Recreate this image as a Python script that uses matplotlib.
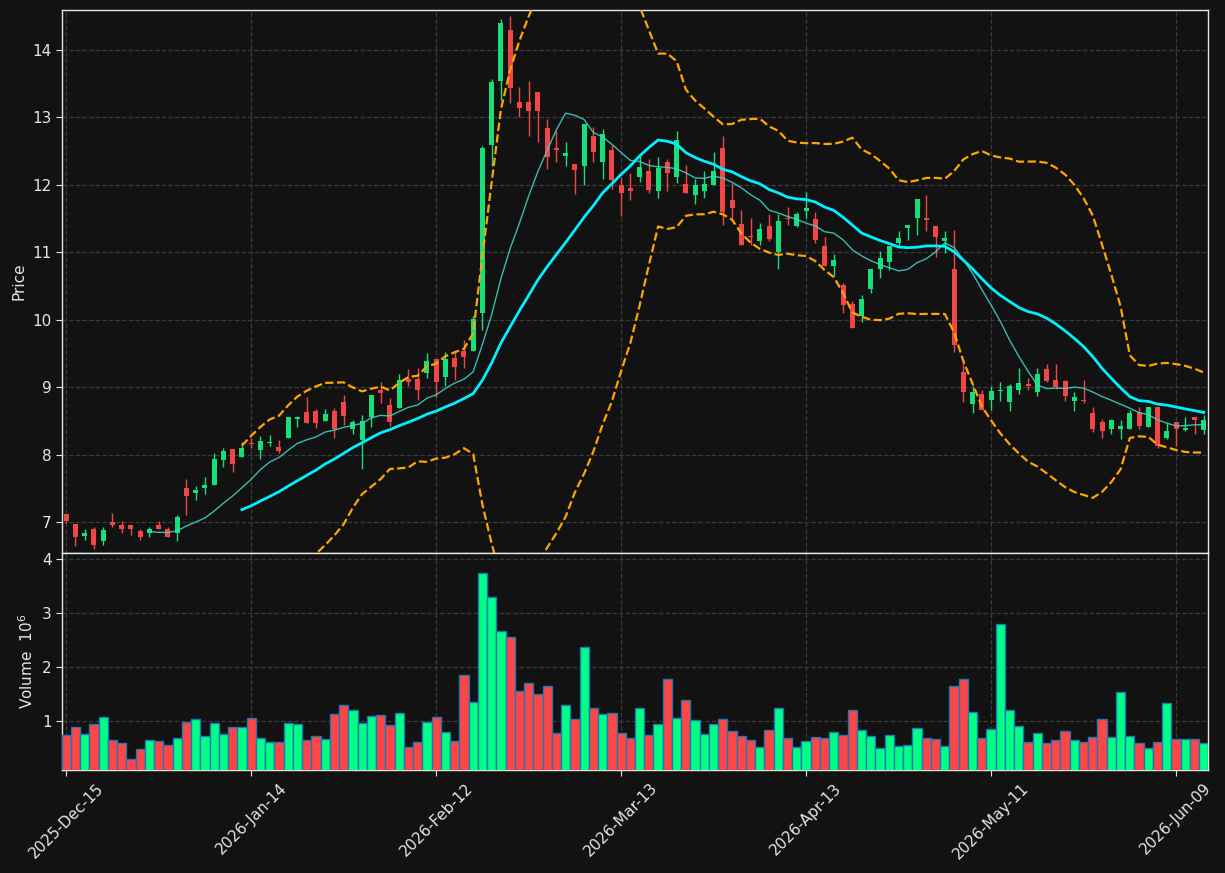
import numpy as np
import pandas as pd
import matplotlib
matplotlib.use("Agg")
import matplotlib.pyplot as plt

# daily OHLC (124 sessions)
opens = [7.12, 6.97, 6.79, 6.90, 6.72, 7.00, 6.95, 6.95, 6.87, 6.83,
         6.95, 6.90, 6.84, 7.50, 7.43, 7.51, 7.55, 7.92, 8.08, 7.97,
         8.17, 8.07, 8.17, 8.11, 8.24, 8.53, 8.63, 8.64, 8.49, 8.64,
         8.78, 8.38, 8.22, 8.55, 8.96, 8.74, 8.69, 9.12, 9.12, 9.21,
         9.42, 9.15, 9.43, 9.54, 9.53, 10.10, 12.59, 13.54, 14.30, 13.23,
         13.23, 13.38, 12.84, 12.55, 12.43, 12.30, 12.27, 12.72, 12.34, 12.52,
         12.00, 11.95, 12.11, 12.21, 11.91, 12.34, 12.12, 12.01, 11.85, 11.90,
         12.00, 12.54, 11.77, 11.42, 11.24, 11.17, 11.39, 11.00, 11.51, 11.39,
         11.61, 11.49, 11.09, 10.79, 10.51, 10.23, 10.05, 10.46, 10.75, 10.85,
         11.14, 11.36, 11.51, 11.50, 11.39, 11.17, 10.75, 9.23, 8.75, 8.90,
         8.81, 8.94, 8.78, 8.95, 9.04, 8.92, 9.27, 9.11, 9.09, 8.79,
         8.81, 8.61, 8.48, 8.38, 8.38, 8.38, 8.63, 8.41, 8.70, 8.25,
         8.48, 8.36, 8.56, 8.36]
highs = [7.12, 6.97, 6.90, 6.92, 6.93, 7.14, 7.01, 6.96, 6.89, 6.92,
         7.01, 6.93, 7.10, 7.64, 7.53, 7.67, 8.02, 8.10, 8.08, 8.19,
         8.25, 8.27, 8.29, 8.21, 8.56, 8.57, 8.86, 8.68, 8.67, 8.69,
         8.88, 8.51, 8.59, 8.88, 9.08, 8.84, 9.19, 9.27, 9.29, 9.50,
         9.42, 9.52, 9.52, 9.70, 10.05, 12.58, 13.56, 14.46, 14.50, 13.45,
         13.54, 13.38, 12.98, 12.80, 12.63, 12.30, 12.90, 12.85, 12.82, 12.59,
         12.12, 12.18, 12.42, 12.38, 12.41, 12.38, 12.79, 12.29, 12.08, 12.21,
         12.48, 12.72, 12.02, 11.63, 11.50, 11.43, 11.57, 11.57, 11.67, 11.59,
         11.89, 11.59, 11.22, 10.97, 10.54, 10.28, 10.37, 10.75, 11.02, 11.09,
         11.31, 11.41, 11.79, 11.85, 11.39, 11.31, 11.33, 9.40, 9.01, 8.96,
         9.01, 9.08, 9.05, 9.28, 9.14, 9.29, 9.34, 9.34, 9.11, 8.93,
         9.10, 8.70, 8.53, 8.52, 8.51, 8.66, 8.71, 8.71, 8.70, 8.46,
         8.48, 8.56, 8.56, 8.59]
lows = [6.98, 6.65, 6.73, 6.60, 6.66, 6.93, 6.84, 6.81, 6.74, 6.77,
        6.89, 6.77, 6.72, 7.10, 7.33, 7.42, 7.55, 7.82, 7.74, 7.97,
        8.10, 7.94, 8.13, 8.02, 8.24, 8.41, 8.46, 8.40, 8.49, 8.25,
        8.44, 8.31, 7.79, 8.41, 8.76, 8.42, 8.69, 9.01, 8.81, 9.13,
        8.86, 9.01, 9.10, 9.28, 9.53, 9.85, 12.27, 13.26, 13.21, 13.00,
        12.72, 12.63, 12.23, 12.34, 12.27, 11.86, 12.00, 12.33, 12.09, 11.93,
        11.53, 11.77, 12.04, 11.87, 11.81, 11.91, 12.02, 11.88, 11.71, 11.80,
        12.00, 11.40, 11.50, 11.10, 11.10, 11.10, 11.17, 10.75, 11.40, 11.37,
        11.50, 11.14, 10.80, 10.65, 10.10, 9.88, 9.97, 10.40, 10.62, 10.73,
        11.08, 11.18, 11.26, 11.31, 10.93, 10.99, 9.52, 8.78, 8.61, 8.66,
        8.66, 8.80, 8.65, 8.89, 8.96, 8.87, 9.07, 8.97, 8.80, 8.64,
        8.76, 8.34, 8.25, 8.30, 8.23, 8.38, 8.38, 8.41, 8.09, 8.23,
        8.12, 8.35, 8.31, 8.31]
closes = [7.01, 6.78, 6.84, 6.66, 6.88, 6.95, 6.90, 6.89, 6.78, 6.89,
          6.89, 6.77, 7.07, 7.38, 7.47, 7.55, 7.93, 8.05, 7.86, 8.10,
          8.15, 8.20, 8.19, 8.05, 8.56, 8.56, 8.46, 8.46, 8.60, 8.38,
          8.57, 8.48, 8.50, 8.88, 8.91, 8.48, 9.11, 9.08, 8.95, 9.39,
          9.07, 9.42, 9.30, 9.44, 10.01, 12.54, 13.53, 14.40, 13.43, 13.14,
          13.09, 13.09, 12.41, 12.51, 12.47, 12.22, 12.90, 12.48, 12.75, 12.07,
          11.88, 11.91, 12.26, 11.92, 12.25, 12.17, 12.67, 11.88, 12.00, 12.01,
          12.21, 11.60, 11.65, 11.10, 11.22, 11.35, 11.20, 11.46, 11.49, 11.57,
          11.66, 11.18, 10.80, 10.89, 10.22, 9.88, 10.30, 10.75, 10.91, 11.09,
          11.21, 11.40, 11.79, 11.48, 11.23, 11.21, 9.62, 8.92, 8.92, 8.66,
          8.94, 8.96, 9.02, 9.06, 9.01, 9.19, 9.09, 9.00, 8.87, 8.85,
          8.79, 8.38, 8.35, 8.51, 8.42, 8.61, 8.42, 8.70, 8.12, 8.35,
          8.38, 8.40, 8.51, 8.51]
# volume in millions
volumes = [0.74, 0.89, 0.76, 0.94, 1.07, 0.65, 0.59, 0.30, 0.48, 0.65,
           0.63, 0.56, 0.69, 0.98, 1.04, 0.72, 0.96, 0.76, 0.89, 0.89,
           1.06, 0.69, 0.61, 0.61, 0.96, 0.94, 0.65, 0.72, 0.67, 1.13,
           1.30, 1.20, 0.96, 1.09, 1.11, 0.93, 1.15, 0.52, 0.61, 0.98,
           1.07, 0.80, 0.63, 1.85, 1.35, 3.74, 3.30, 2.67, 2.56, 1.56,
           1.70, 1.50, 1.65, 0.78, 1.30, 1.04, 2.37, 1.24, 1.13, 1.15,
           0.78, 0.69, 1.24, 0.74, 0.94, 1.78, 1.06, 1.39, 1.02, 0.76,
           0.94, 1.04, 0.81, 0.72, 0.65, 0.52, 0.83, 1.24, 0.69, 0.52,
           0.63, 0.70, 0.69, 0.80, 0.74, 1.20, 0.83, 0.72, 0.50, 0.74,
           0.54, 0.56, 0.87, 0.69, 0.67, 0.54, 1.65, 1.78, 1.17, 0.69,
           0.85, 2.80, 1.20, 0.91, 0.62, 0.78, 0.59, 0.65, 0.81, 0.65,
           0.61, 0.70, 1.04, 0.70, 1.54, 0.72, 0.59, 0.50, 0.62, 1.33,
           0.67, 0.67, 0.67, 0.59]
tick_pos = [0, 20, 40, 60, 80, 100, 120]
tick_labels = ['2025-Dec-15', '2026-Jan-14', '2026-Feb-12', '2026-Mar-13',
               '2026-Apr-13', '2026-May-11', '2026-Jun-09']

df = pd.DataFrame({'open': opens, 'high': highs, 'low': lows,
                   'close': closes, 'volume': volumes})
x = np.arange(len(df))
up = df['close'] >= df['open']

# indicators from the closes
ma10 = df['close'].rolling(10).mean()
ma20 = df['close'].rolling(20).mean()
sd20 = df['close'].rolling(20).std()
bb_up = ma20 + 2 * sd20
bb_lo = ma20 - 2 * sd20

bg = '#121212'
fg = '#e6e6e6'
c_up, c_dn = '#17e07a', '#f04646'
v_up, v_dn = '#00ff85', '#ff4646'

fig = plt.figure(figsize=(12.25, 8.73), dpi=100, facecolor=bg)
ax = fig.add_axes([62/1225, 1 - 553/873, 1146/1225, 543/873])
axv = fig.add_axes([62/1225, 1 - 770/873, 1146/1225, 217/873], sharex=ax)

for a in (ax, axv):
    a.set_facecolor(bg)
    a.grid(True, linestyle='--', color='#3a3a3a', linewidth=0.9)
    a.set_axisbelow(True)
    for s in a.spines.values():
        s.set_color(fg)
        s.set_linewidth(1.0)
    a.tick_params(colors=fg, labelsize=11, length=4)

# candles
colors = np.where(up, c_up, c_dn)
ax.vlines(x, df['low'], df['high'], colors=colors, linewidth=1.0, zorder=2)
body_lo = np.minimum(df['open'], df['close'])
body_h = np.maximum((df['close'] - df['open']).abs(), 0.02)
ax.bar(x, body_h, bottom=body_lo, width=0.55, color=colors, linewidth=0, zorder=3)

ax.plot(x, ma10, color='#40d8cc', linewidth=1.0, alpha=0.85, zorder=4)
ax.plot(x, ma20, color='#00f0ff', linewidth=2.0, zorder=4)
ax.plot(x, bb_up, color='#ffa500', linestyle='--', linewidth=1.6, zorder=4)
ax.plot(x, bb_lo, color='#ffa500', linestyle='--', linewidth=1.6, zorder=4)

ax.set_ylim(6.54, 14.59)
ax.set_xlim(-0.45, 123.45)
ax.set_yticks(range(7, 15))
ax.set_ylabel('Price', color=fg, fontsize=11)
plt.setp(ax.get_xticklabels(), visible=False)

# volume
axv.bar(x, df['volume'], width=1.0, color=np.where(up, v_up, v_dn),
        edgecolor='#1f77b4', linewidth=1.0, zorder=3)
axv.set_ylim(0.098, 4.11)
axv.set_yticks([1, 2, 3, 4])
axv.set_ylabel('Volume  $10^{6}$', color=fg, fontsize=11)
axv.set_xticks(tick_pos)
axv.set_xticklabels(tick_labels, rotation=45, ha='center')

fig.savefig('out.png', dpi=100, facecolor=bg)
